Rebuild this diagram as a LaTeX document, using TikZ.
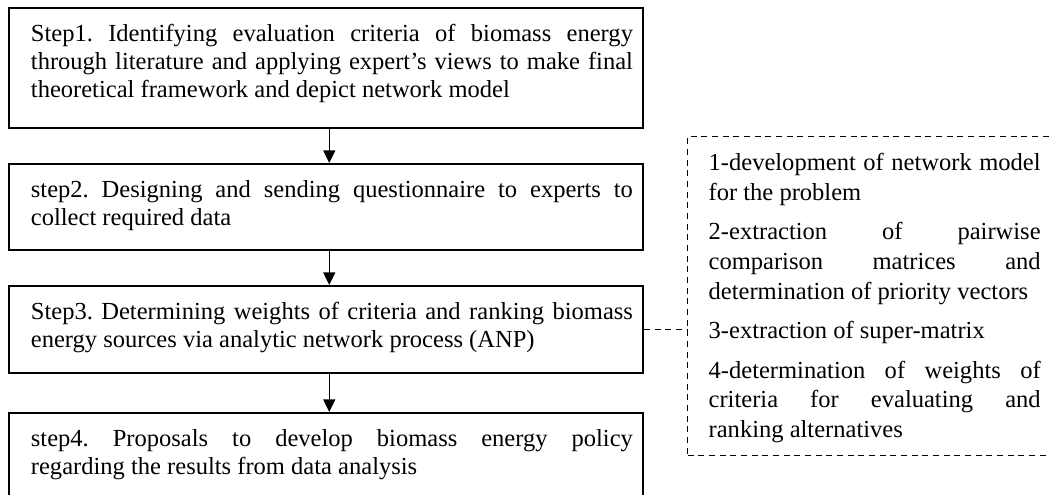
\documentclass[tikz,border=0pt]{standalone}
\usepackage{fontspec}
\setmainfont{Liberation Serif}
\usetikzlibrary{arrows.meta}
\frenchspacing
\newcommand{\stxt}[2]{\parbox[b][#1][t]{475.5pt}{\fontsize{18.4pt}{21pt}\selectfont\frenchspacing\leftskip=16.5pt\rightskip=7.5pt\parindent=0pt\hyphenpenalty=10000\exhyphenpenalty=10000\rule{0pt}{25pt}#2}}
\newcommand{\ntxt}[1]{\parbox[b][239.25pt][t]{279.75pt}{\fontsize{18.4pt}{22.2pt}\selectfont\frenchspacing\leftskip=15.75pt\rightskip=15pt\parindent=0pt\parskip=7.5pt\hyphenpenalty=10000\exhyphenpenalty=10000\rule{0pt}{25.5pt}#1}}
\begin{document}
\begin{tikzpicture}[x=1pt,y=-1pt,
  stepbox/.style={draw, line width=1.4pt, inner sep=0pt, anchor=north west},
  notebox/.style={draw, dash pattern=on 4.5pt off 3.5pt, line width=1pt, inner sep=0pt, anchor=north west},
  flow/.style={line width=1.1pt, -{Triangle[length=9.5pt,width=9pt]}},
  link/.style={line width=1pt, dash pattern=on 4.5pt off 3.5pt}]
\useasboundingbox (0,0) rectangle (787.5,370.5);
\clip (0,0) rectangle (787.5,370.5);
\node[stepbox] (s1) at (6,5.25) {\stxt{90pt}{Step1. Identifying evaluation criteria of biomass energy\linebreak through literature and applying expert’s views to make final\linebreak theoretical framework and depict network model}};
\node[stepbox] (s2) at (6,122.25) {\stxt{64.5pt}{step2. Designing and sending questionnaire to experts to\linebreak collect required data}};
\node[stepbox] (s3) at (6,213.75) {\stxt{65.25pt}{Step3. Determining weights of criteria and ranking biomass\linebreak energy sources via analytic network process (ANP)}};
\node[stepbox] (s4) at (6,309) {\stxt{75pt}{step4. Proposals to develop biomass energy policy\linebreak regarding the results from data analysis}};
\node[notebox] (d) at (515.25,102) {\ntxt{1-development of network model\linebreak for the problem\par
2-extraction of pairwise\linebreak comparison matrices and\linebreak determination of priority vectors\par
3-extraction of super-matrix\par
4-determination of weights of\linebreak criteria for evaluating and\linebreak ranking alternatives}};
\draw[flow] ([xshift=2.5pt]s1.south) -- ([xshift=2.5pt]s2.north);
\draw[flow] ([xshift=2.5pt]s2.south) -- ([xshift=2.5pt]s3.north);
\draw[flow] ([xshift=2.5pt]s3.south) -- ([xshift=2.5pt]s4.north);
\draw[link] (s3.east) -- (s3.east -| d.west);
\end{tikzpicture}
\end{document}
